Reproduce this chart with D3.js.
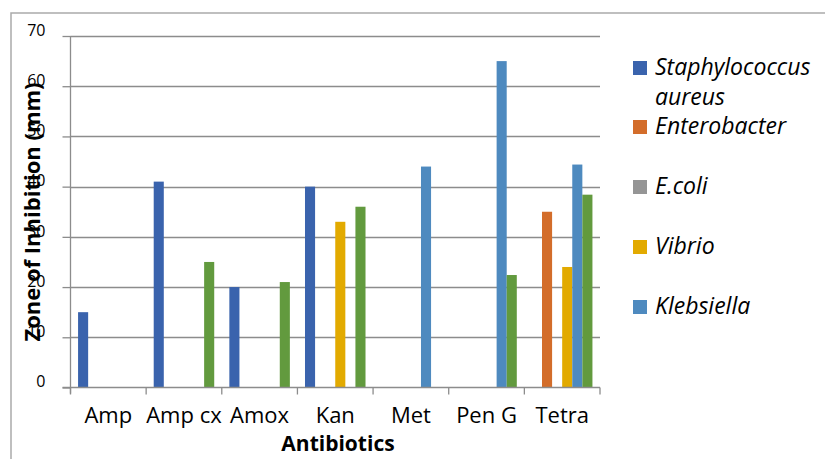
<!DOCTYPE html>
<html><head><meta charset="utf-8">
<script src="https://cdn.jsdelivr.net/npm/d3@7"></script>
<style>body{margin:0;background:#fff}svg{display:block}text{font-family:"Open Sans",Lato,sans-serif}</style>
</head><body><svg id="c" width="825" height="459"></svg>
<script>
const categories = ["Amp","Amp cx","Amox","Kan","Met","Pen G","Tetra"];
const seriesNames = ["Staphylococcus aureus","Enterobacter","E.coli","Vibrio","Klebsiella","Series6"];
const staph = [15,41,20,40,0,0,0];
const enterobacter = [0,0,0,0,0,0,35];
const ecoli = [0,0,0,0,0,0,0];
const vibrio = [0,0,0,33,0,0,24];
const klebsiella = [0,0,0,0,44,65,44.4];
const series6 = [0,25,21,36,0,22.4,38.4];
const yTicks = [0,10,20,30,40,50,60,70];
const colors = ["#3A63AD","#D36D2A","#959595","#E2AA00","#4E8ABF","#629A3E"];

const allSeries = [staph,enterobacter,ecoli,vibrio,klebsiella,series6];
const svg = d3.select("#c");
const L=70.5, R=600, T=36, B=387.5;

svg.append("path").attr("d","M11,459 V13 H825").attr("fill","none").attr("stroke","#aaa").attr("stroke-width",1.5);

const x = d3.scaleBand().domain(categories).range([L,R]).paddingInner(0).paddingOuter(0);
const y = d3.scaleLinear().domain([0,70]).range([B,T]);
// Excel gap width 150%: bar width = band/(6+1.5)
const bw = x.bandwidth()/7.5;
const off = bw*0.75;

svg.append("g").selectAll("line").data(yTicks.filter(d=>d>0)).join("line")
  .attr("x1",L).attr("x2",R).attr("y1",d=>Math.round(y(d))+0.5).attr("y2",d=>Math.round(y(d))+0.5)
  .attr("stroke","#8c8c8c").attr("stroke-width",1.3);

const g = svg.append("g");
allSeries.forEach((vals,si)=>{
  g.selectAll(null).data(vals.map((v,i)=>({v,c:categories[i]})).filter(d=>d.v>0)).join("rect")
    .attr("x",d=>x(d.c)+off+si*bw).attr("width",bw)
    .attr("y",d=>y(d.v)).attr("height",d=>B-y(d.v))
    .attr("fill",colors[si]);
});

const ya = svg.append("g").attr("transform",`translate(${L},0)`)
  .call(d3.axisLeft(y).tickValues(yTicks).tickSize(8).tickFormat(d3.format("d")));
ya.select(".domain").remove();
ya.append("line").attr("x1",0).attr("x2",0).attr("y1",T).attr("y2",B+6).attr("stroke","#8c8c8c").attr("stroke-width",1.3);
ya.selectAll(".tick line").attr("stroke","#8c8c8c").attr("stroke-width",1.3);
ya.selectAll(".tick text").attr("x",-25).attr("dy","-0.05em").attr("font-size",16).attr("fill","#000");

const xa = svg.append("g").attr("transform",`translate(0,${B})`);
xa.append("line").attr("x1",L-8).attr("x2",R).attr("y1",0).attr("y2",0).attr("stroke","#8c8c8c").attr("stroke-width",1.3);
const bounds = categories.map(c=>x(c)).concat([R]);
xa.selectAll("line.t").data(bounds).join("line").attr("class","t")
  .attr("x1",d=>d).attr("x2",d=>d).attr("y1",0).attr("y2",7).attr("stroke","#8c8c8c").attr("stroke-width",1.3);
xa.selectAll("text").data(categories).join("text")
  .attr("x",d=>x(d)+x.bandwidth()/2).attr("y",35).attr("text-anchor","middle")
  .attr("font-size",22).attr("fill","#000").text(d=>d);

svg.append("text").attr("x",338).attr("y",451).attr("text-anchor","middle")
  .attr("font-size",21).attr("font-weight","bold").text("Antibiotics");
svg.append("text").attr("transform","translate(40,212) rotate(-90)").attr("text-anchor","middle")
  .attr("font-size",22).attr("font-weight","bold").text("Zone of Inhibition (mm)");

const leg = [
  {name:["Staphylococcus","aureus"], y:61},
  {name:["Enterobacter"], y:120},
  {name:["E.coli"], y:180},
  {name:["Vibrio"], y:240},
  {name:["Klebsiella"], y:300}
];
const lg = svg.append("g");
leg.forEach((d,i)=>{
  lg.append("rect").attr("x",633).attr("y",d.y).attr("width",14).attr("height",14).attr("fill",colors[i]);
  const t = lg.append("text").attr("x",655).attr("y",d.y+14).attr("font-size",23).attr("font-style","italic").attr("fill","#000");
  d.name.forEach((n,k)=>t.append("tspan").attr("x",655).attr("dy",k?30:0).text(n));
});
</script></body></html>
